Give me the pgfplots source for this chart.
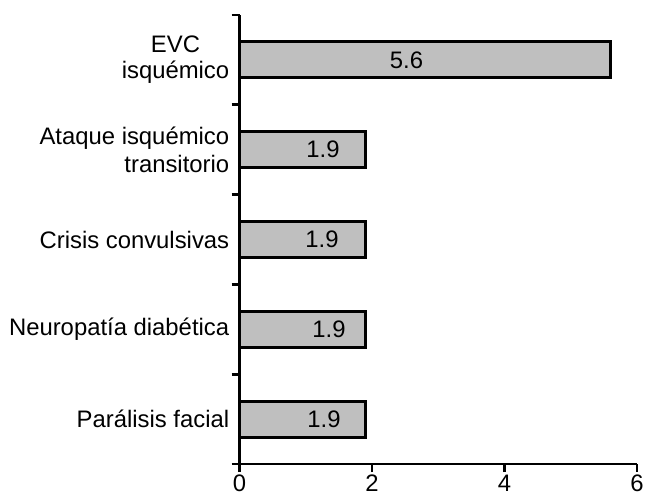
\documentclass[border=0pt]{standalone}
\usepackage{pgfplots}
\pgfplotsset{compat=1.18}
\usepackage{fontspec}
\setmainfont{Liberation Sans}
\definecolor{barfill}{RGB}{191,191,191}
\begin{document}
\fontsize{12}{14}\selectfont
\begin{tikzpicture}
\begin{axis}[
    xbar,
    scale only axis,
    width=200pt,
    height=226pt,
    bar width=0.4,
    bar shift=0pt,
    xmin=0, xmax=6,
    ymin=-0.5, ymax=4.5,
    axis x line*=bottom,
    axis y line*=left,
    axis line style={line width=1.3pt},
    xtick={0,2,4,6},
    ytick={-0.5,0.5,1.5,2.5,3.5,4.5},
    yticklabels={},
    extra y ticks={0,1,2,3,4},
    extra y tick labels={Parálisis facial,Neuropatía diabética,Crisis convulsivas,{Ataque isquémico\\transitorio},{\begin{tabular}{@{}c@{}}EVC\\[-1pt]isquémico\end{tabular}}},
    extra y tick style={major tick length=0pt},
    yticklabel style={align=right, font=\fontsize{12}{14}\selectfont, xshift=-1pt},
    xticklabel style={font=\fontsize{12}{14}\selectfont, inner sep=0pt, yshift=-1.3pt},
    tick style={black, line width=1.3pt},
    major tick length=4pt,
    tick align=outside,
    /pgf/number format/assume math mode=true,
    clip=false,
]
\addplot[fill=barfill, draw=black, line width=1.5pt] coordinates {
    (1.9,0) (1.9,1) (1.9,2) (1.9,3) (5.6,4)
};
\node at (axis cs:1.275,0) {1.9};
\node at (axis cs:1.35,1) {1.9};
\node at (axis cs:1.245,2) {1.9};
\node at (axis cs:1.26,3) {1.9};
\node at (axis cs:2.52,4) {5.6};
\end{axis}
\pgfresetboundingbox
\useasboundingbox (-120.5pt,-16pt) rectangle (205pt,233.5pt);
\end{tikzpicture}
\end{document}
